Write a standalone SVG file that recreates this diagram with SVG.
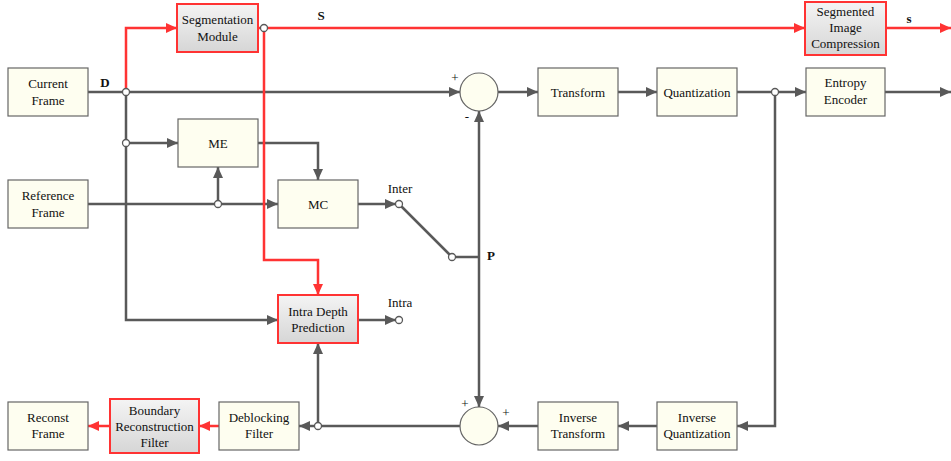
<svg xmlns="http://www.w3.org/2000/svg" width="951" height="461" viewBox="0 0 951 461">
<defs>
<linearGradient id="gr" x1="0" y1="0" x2="0" y2="1"><stop offset="0" stop-color="#f4f4f4"/><stop offset="1" stop-color="#d6d6d6"/></linearGradient>
<marker id="ag" markerUnits="userSpaceOnUse" markerWidth="11" markerHeight="10" refX="11" refY="5" orient="auto"><path d="M0,0 L11,5 L0,10 z" fill="#595959"/></marker>
<marker id="ar" markerUnits="userSpaceOnUse" markerWidth="11" markerHeight="10" refX="11" refY="5" orient="auto"><path d="M0,0 L11,5 L0,10 z" fill="#f33"/></marker>
<style>
.box{fill:#fefef0;stroke:#666;stroke-width:1.2}
.rbox{fill:url(#gr);stroke:#f33;stroke-width:2}
.sum{fill:#fefef0;stroke:#666;stroke-width:1.2}
.g{fill:none;stroke:#595959;stroke-width:2.5}
.gA{fill:none;stroke:#595959;stroke-width:2.5;marker-end:url(#ag)}
.r{fill:none;stroke:#f33;stroke-width:2.5}
.rA{fill:none;stroke:#f33;stroke-width:2.5;marker-end:url(#ar)}
.j{fill:#fff;stroke:#595959;stroke-width:1.3}
text{font-family:"Liberation Serif","Times New Roman",serif;font-size:13px;fill:#111;text-anchor:middle}
.b{font-weight:bold}
</style>
</defs>
<rect width="951" height="461" fill="#fff"/>
<g id="connectors">
<path class="gA" d="M88,92 H460"/>
<path class="gA" d="M126,92 V320 H278"/>
<path class="gA" d="M126,143 H178"/>
<path class="gA" d="M258,143 H318 V180"/>
<path class="gA" d="M88,204 H278"/>
<path class="gA" d="M218,204 V167"/>
<path class="gA" d="M358,204 H396"/>
<path class="g" d="M401.5,206.5 L449.5,254.5"/>
<path class="g" d="M455.5,257 H479"/>
<path class="gA" d="M479,257 V111"/>
<path class="gA" d="M479,257 V407"/>
<path class="gA" d="M358,320 H396"/>
<path class="gA" d="M498,92 H538"/>
<path class="gA" d="M618,92 H657"/>
<path class="gA" d="M737,92 H806"/>
<path class="gA" d="M775,92 V426 H737"/>
<path class="gA" d="M885,92 H951"/>
<path class="gA" d="M657,426 H618"/>
<path class="gA" d="M538,426 H498"/>
<path class="gA" d="M460,426 H299"/>
<path class="gA" d="M318,426 V343"/>
<path class="rA" d="M126,92 V28 H177"/>
<path class="rA" d="M258,28 H805"/>
<path class="rA" d="M264,28 V260 H318 V295"/>
<path class="rA" d="M886,28 H951"/>
<path class="rA" d="M219,426 H199"/>
<path class="rA" d="M110,426 H88"/>
<circle class="j" cx="126" cy="92" r="3.5"/>
<circle class="j" cx="126" cy="143" r="3.5"/>
<circle class="j" cx="218" cy="204" r="3.5"/>
<circle class="j" cx="264" cy="28" r="3.5"/>
<circle class="j" cx="775" cy="92" r="3.5"/>
<circle class="j" cx="318" cy="426" r="3.5"/>
<circle class="j" cx="399" cy="204" r="3.5"/>
<circle class="j" cx="452" cy="257" r="3.5"/>
<circle class="j" cx="399" cy="320" r="3.5"/>
<text class="b" x="105" y="87">D</text>
<text class="b" x="321" y="20">S</text>
<text class="b" x="909" y="23">s</text>
<text class="b" x="491" y="260">P</text>
<text x="400" y="193">Inter</text>
<text x="400" y="307">Intra</text>
</g>
<g id="current-frame"><rect class="box" x="8" y="68" width="80" height="48"/><text x="48" y="88">Current</text><text x="48" y="105">Frame</text></g>
<g id="reference-frame"><rect class="box" x="8" y="180" width="80" height="48"/><text x="48" y="200">Reference</text><text x="48" y="217">Frame</text></g>
<g id="segmentation-module"><rect class="rbox" x="177" y="4" width="81" height="48"/><text x="217.5" y="24">Segmentation</text><text x="217.5" y="41">Module</text></g>
<g id="me"><rect class="box" x="178" y="119" width="80" height="48"/><text x="218" y="148">ME</text></g>
<g id="mc"><rect class="box" x="278" y="180" width="80" height="48"/><text x="318" y="209">MC</text></g>
<g id="intra-depth-prediction"><rect class="rbox" x="278" y="295" width="80" height="48"/><text x="318" y="316">Intra Depth</text><text x="318" y="332">Prediction</text></g>
<g id="sum-top"><circle class="sum" cx="479" cy="92" r="19"/><text x="455" y="82">+</text><text x="467" y="121">-</text></g>
<g id="sum-bottom"><circle class="sum" cx="479" cy="426" r="19"/><text x="465" y="408">+</text><text x="506" y="417">+</text></g>
<g id="transform"><rect class="box" x="538" y="68" width="80" height="48"/><text x="578" y="97">Transform</text></g>
<g id="quantization"><rect class="box" x="657" y="68" width="80" height="48"/><text x="697" y="97">Quantization</text></g>
<g id="entropy-encoder"><rect class="box" x="806" y="68" width="79" height="48"/><text x="845.5" y="87">Entropy</text><text x="845.5" y="104">Encoder</text></g>
<g id="segmented-image-compression"><rect class="rbox" x="805" y="2" width="81" height="53"/><text x="845.5" y="16">Segmented</text><text x="845.5" y="32">Image</text><text x="845.5" y="48">Compression</text></g>
<g id="inverse-quantization"><rect class="box" x="657" y="402" width="80" height="48"/><text x="697" y="422">Inverse</text><text x="697" y="438">Quantization</text></g>
<g id="inverse-transform"><rect class="box" x="538" y="402" width="80" height="48"/><text x="578" y="422">Inverse</text><text x="578" y="438">Transform</text></g>
<g id="deblocking-filter"><rect class="box" x="219" y="402" width="80" height="48"/><text x="259" y="422">Deblocking</text><text x="259" y="438">Filter</text></g>
<g id="boundary-reconstruction-filter"><rect class="rbox" x="110" y="399" width="89" height="54"/><text x="154.5" y="415">Boundary</text><text x="154.5" y="431">Reconstruction</text><text x="154.5" y="447">Filter</text></g>
<g id="reconst-frame"><rect class="box" x="8" y="402" width="80" height="48"/><text x="48" y="422">Reconst</text><text x="48" y="438">Frame</text></g>
</svg>
